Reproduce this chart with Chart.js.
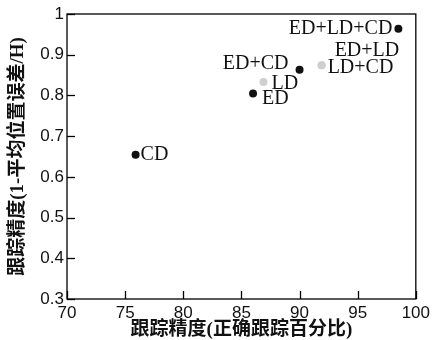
<!DOCTYPE html>
<html>
<head>
<meta charset="utf-8">
<script src="https://cdn.jsdelivr.net/npm/chart.js@4"></script>
<style>
    html, body { margin: 0; padding: 0; background: #fff; }
    #wrap { width: 434px; height: 340px; }
</style>
</head>
<body>
<div id="wrap"><canvas id="trackChart" width="434" height="340"></canvas></div>
<script>
// DATA
const darkNames = ['ED+LD+CD', 'ED+CD', 'ED', 'CD'];
const darkX = [98.5, 90.0, 86.0, 75.9];
const darkY = [0.964, 0.863, 0.805, 0.654];

const lightNames = ['LD+CD', 'ED+LD', 'LD'];
const lightX = [91.9, 91.9, 86.9];
const lightY = [0.874, 0.874, 0.833];

const xTitle = '跟踪精度(正确跟踪百分比)';
const yTitle = '跟踪精度(1-平均位置误差/H)';

// where each point label sits relative to its dot
const labelPlace = {
    'ED+LD+CD': { dx: -6, dy: 0, align: 'right' },
    'ED+CD': { dx: -11, dy: -6, align: 'right' },
    'LD+CD': { dx: 6, dy: 2, align: 'left' },
    'ED+LD': { dx: 13, dy: -15, align: 'left' },
    'LD': { dx: 8, dy: 2, align: 'left' },
    'ED': { dx: 9, dy: 5, align: 'left' },
    'CD': { dx: 5, dy: 0, align: 'left' }
};

const toPoints = (xs, ys) => xs.map((x, i) => ({ x: x, y: ys[i] }));

// frame + inward tick marks
const framePlugin = {
    id: 'frame',
    afterDraw(chart) {
        const ctx = chart.ctx;
        const a = chart.chartArea;
        const sx = chart.scales.x;
        const sy = chart.scales.y;
        ctx.save();
        ctx.strokeStyle = '#000';
        ctx.lineWidth = 1.3;
        ctx.strokeRect(a.left, a.top, a.right - a.left, a.bottom - a.top);
        sx.ticks.forEach(tk => {
            const px = Math.round(sx.getPixelForValue(tk.value)) + 0.5;
            ctx.beginPath();
            ctx.moveTo(px, a.bottom);
            ctx.lineTo(px, a.bottom - 8);
            ctx.stroke();
        });
        sy.ticks.forEach(tk => {
            const py = Math.round(sy.getPixelForValue(tk.value)) + 0.5;
            ctx.beginPath();
            ctx.moveTo(a.left, py);
            ctx.lineTo(a.left + 8, py);
            ctx.stroke();
        });
        ctx.restore();
    }
};

// point names
const namePlugin = {
    id: 'names',
    afterDatasetsDraw(chart) {
        const { ctx, scales } = chart;
        ctx.save();
        ctx.font = '20px "Liberation Serif", "Times New Roman", serif';
        ctx.fillStyle = '#111';
        ctx.textBaseline = 'middle';
        chart.data.datasets.forEach(ds => {
            ds.data.forEach((p, i) => {
                const name = ds.names[i];
                const place = labelPlace[name];
                ctx.textAlign = place.align;
                ctx.fillText(name,
                    scales.x.getPixelForValue(p.x) + place.dx,
                    scales.y.getPixelForValue(p.y) + place.dy);
            });
        });
        ctx.restore();
    }
};

const tickFont = { family: '"Liberation Sans", Arial, sans-serif', size: 17 };
const titleFont = { family: '"Liberation Serif", "Noto Sans CJK SC", serif', size: 19, weight: 'bold', lineHeight: 1 };

new Chart(document.getElementById('trackChart'), {
    type: 'scatter',
    data: {
        datasets: [{
            data: toPoints(darkX, darkY),
            names: darkNames,
            backgroundColor: '#111',
            pointRadius: 4,
            pointBorderWidth: 0
        }, {
            data: toPoints(lightX, lightY),
            names: lightNames,
            backgroundColor: '#cfcfcf',
            pointRadius: 4,
            pointBorderWidth: 0
        }]
    },
    options: {
        responsive: false,
        animation: false,
        devicePixelRatio: 1,
        layout: { padding: { top: 14, right: 13, left: 0, bottom: 0 } },
        plugins: { legend: { display: false }, tooltip: { enabled: false } },
        scales: {
            x: {
                min: 70, max: 100,
                grid: { display: false, drawTicks: false },
                border: { display: false },
                ticks: { stepSize: 5, color: '#111', font: tickFont, padding: 4 },
                title: { display: true, text: xTitle, color: '#111', font: titleFont, padding: { top: 0, bottom: 0 } },
                afterFit: (s) => { s.height = 41; }
            },
            y: {
                min: 0.3, max: 1,
                grid: { display: false, drawTicks: false },
                border: { display: false },
                ticks: {
                    stepSize: 0.1, color: '#111', font: tickFont, padding: 3,
                    callback: (v) => String(Number(v.toFixed(1)))
                },
                title: { display: true, text: yTitle, color: '#111', font: titleFont, padding: { top: 9, bottom: 0 } },
                afterFit: (s) => { s.width = 67; }
            }
        }
    },
    plugins: [framePlugin, namePlugin]
});
</script>
</body>
</html>
